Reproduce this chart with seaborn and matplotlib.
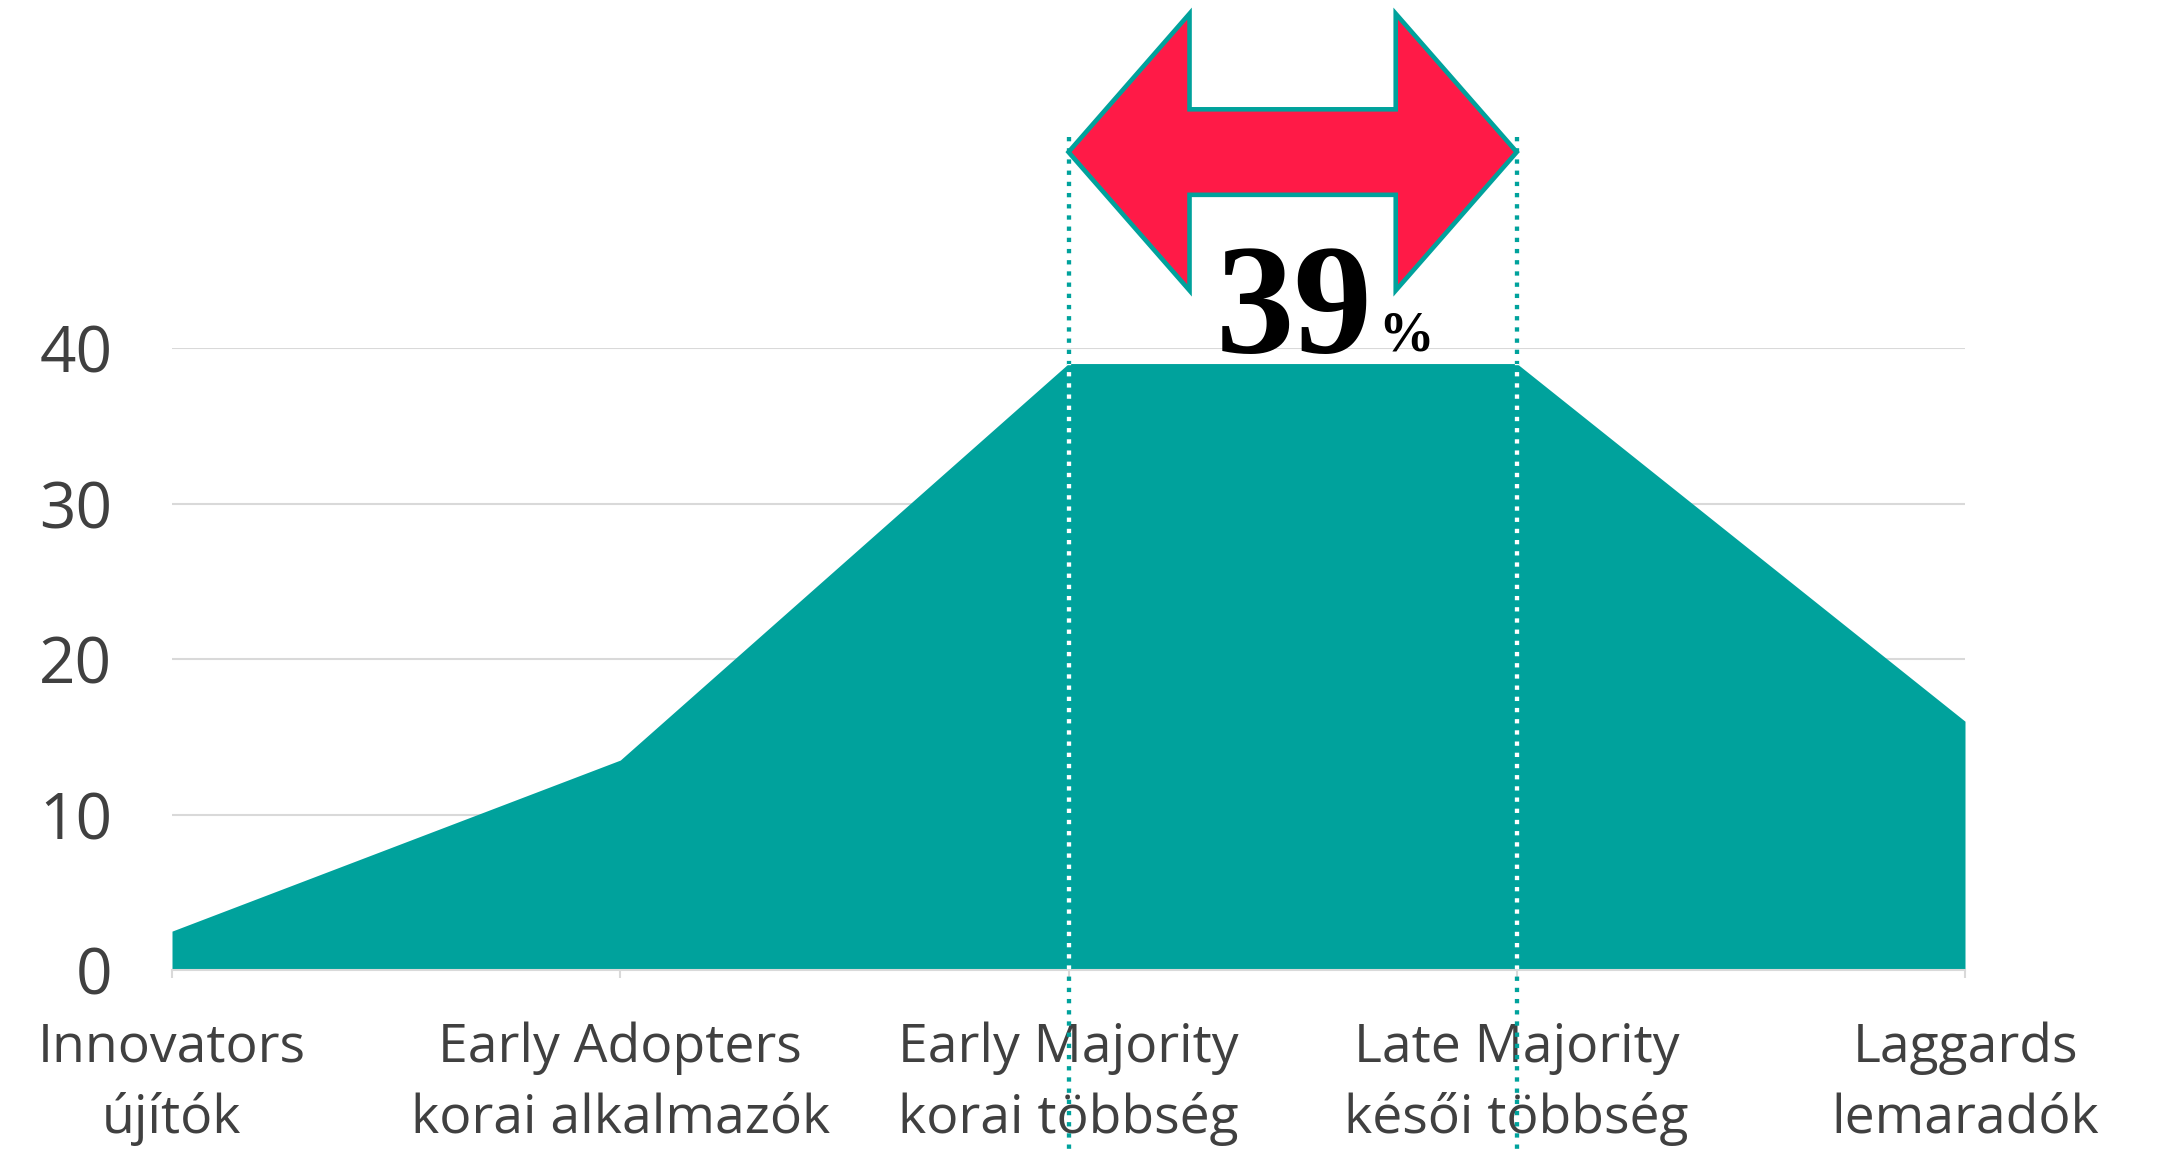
import matplotlib
matplotlib.use("Agg")
import matplotlib.pyplot as plt
from matplotlib.patches import Polygon, Rectangle
import seaborn as sns
import pandas as pd
import numpy as np

# Data
categories = ["Innovators\nújítók", "Early Adopters\nkorai alkalmazók", "Early Majority\nkorai többség",
              "Late Majority\nkésői többség", "Laggards\nlemaradók"]
values = [2.5, 13.5, 39, 39, 16]
yticks = [0, 10, 20, 30, 40]

teal = "#00A29C"
red = "#FF1A47"
grey_text = "#404040"
grid_grey = "#D9D9D9"

sns.set_theme(style="white")
plt.rcParams["font.family"] = ["Open Sans", "DejaVu Sans"]

df = pd.DataFrame({"pos": np.arange(len(categories)), "value": values})

fig = plt.figure(figsize=(21.57, 11.5), dpi=100)
ax = fig.add_axes([172 / 2157, 180 / 1150, (1965 - 172) / 2157, (970 - 348) / 1150])

sns.lineplot(data=df, x="pos", y="value", color=teal, linewidth=0, ax=ax)
ax.fill_between(df["pos"], 0, df["value"], color=teal, linewidth=0, zorder=2)

ax.set_xlim(0, len(categories) - 1)
ax.set_ylim(0, 40)
ax.set_yticks(yticks)
ax.set_yticklabels([str(t) for t in yticks], fontsize=46, color=grey_text)
ax.set_xticks(df["pos"])
ax.set_xticklabels(categories, fontsize=38.5, color=grey_text, linespacing=1.42)
ax.tick_params(axis="y", length=0, pad=43)
ax.tick_params(axis="x", length=6, width=1.5, color=grid_grey, pad=31, bottom=True)
ax.set_xlabel("")
ax.set_ylabel("")
ax.yaxis.grid(True, color=grid_grey, linewidth=1.5)
ax.set_axisbelow(True)
for side in ["top", "right", "left"]:
    ax.spines[side].set_visible(False)
ax.spines["bottom"].set_color(grid_grey)
ax.spines["bottom"].set_linewidth(1.5)

# dotted guides for the majority segment
lo, hi = 2, 3
dots = (0, (1, 1.6))
for x in [lo, hi]:
    ax.plot([x, x], [53.6, -12], color=teal, lw=3.1, linestyle=dots, clip_on=False, zorder=4)
    white, = ax.plot([x, x], [53.6, -12], color="white", lw=3.1, linestyle=dots, zorder=5)
    white.set_clip_path(Rectangle((x - 0.2, 0), 0.4, values[lo], transform=ax.transData))

# double arrow between the two majority groups
yc, head_h, shaft_h, head_l = 52.6, 8.9, 2.75, 0.27
arrow_pts = [
    (lo, yc), (lo + head_l, yc + head_h), (lo + head_l, yc + shaft_h),
    (hi - head_l, yc + shaft_h), (hi - head_l, yc + head_h), (hi, yc),
    (hi - head_l, yc - head_h), (hi - head_l, yc - shaft_h),
    (lo + head_l, yc - shaft_h), (lo + head_l, yc - head_h),
]
ax.add_patch(Polygon(arrow_pts, closed=True, facecolor=red, edgecolor=teal,
                     linewidth=3.3, joinstyle="miter", clip_on=False, zorder=6))

ax.text(2.328, 39.74, f"{values[lo]:.0f}", fontsize=113, fontweight="bold",
        family="Liberation Serif", color="black", ha="left", va="baseline", zorder=7)
ax.text(2.69, 39.87, "%", fontsize=40, fontweight="bold",
        family="Liberation Serif", color="black", ha="left", va="baseline", zorder=7)

fig.savefig("out.png", dpi=100, facecolor="white")
